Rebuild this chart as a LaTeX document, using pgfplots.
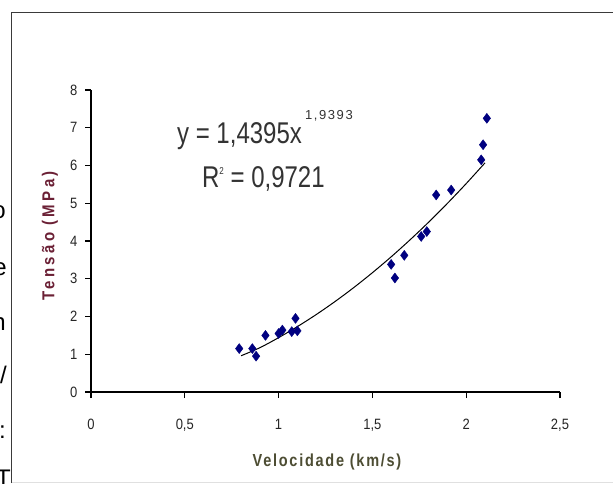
\documentclass[border=0pt]{standalone}
\usepackage{fontspec}
\setmainfont{Liberation Sans}
\newfontfamily\spaced[LetterSpace=12]{Liberation Sans}
\newfontfamily\wide[LetterSpace=22]{Liberation Sans}
\usepackage{pgfplots}
\pgfplotsset{compat=1.18}
\definecolor{navy}{HTML}{000080}
\definecolor{ylab}{HTML}{6B2035}
\definecolor{xlab}{HTML}{4D4D33}
\definecolor{framegray}{HTML}{3A3A3A}

\begin{document}
\begin{tikzpicture}[x=1pt,y=1pt]
  \useasboundingbox (0,0) rectangle (613,483);
  \fill[white] (0,0) rectangle (613,483);

  % moldura do grafico
  \draw[line width=1.8pt, framegray] (11.5,0) -- (11.5,470.5) -- (613,470.5);
  \draw[line width=1pt, black!12] (12,1) -- (613,1);

  % restos do texto ao lado (cortados)
  \begin{scope}
    \clip (0,0) rectangle (10,483);
    \node[anchor=base east, inner sep=0pt, font=\fontsize{24}{24}\selectfont] at (6,265) {o};
    \node[anchor=base east, inner sep=0pt, font=\fontsize{24}{24}\selectfont] at (7,208) {e};
    \node[anchor=base east, inner sep=0pt, font=\fontsize{24}{24}\selectfont] at (6,153) {n};
    \node[anchor=base east, inner sep=0pt, font=\fontsize{24}{24}\selectfont] at (7,100) {/};
    \node[anchor=base east, inner sep=0pt, font=\fontsize{24}{24}\selectfont] at (6,45) {:};
    \node[anchor=base east, inner sep=0pt, font=\fontsize{24}{24}\selectfont] at (11,-3) {T};
  \end{scope}

  \begin{axis}[
    at={(91pt,91pt)},
    anchor=south west,
    width=469pt,
    height=302pt,
    scale only axis,
    xmin=0, xmax=2.5,
    ymin=0, ymax=8,
    axis lines*=left,
    axis line style={line width=1.3pt},
    tick align=outside,
    major tick length=6pt,
    tick style={line width=1.3pt, black},
    xtick={0,0.5,1,1.5,2,2.5},
    ytick={0,1,2,3,4,5,6,7,8},
    /pgf/number format/use comma,
    /pgf/number format/assume math mode=true,
    xticklabel style={font=\fontsize{13}{13}\selectfont, text=black!85, yshift=-17pt, yscale=1.15},
    yticklabel style={font=\fontsize{13}{13}\selectfont, text=black!85, xshift=-4pt, yscale=1.15},
    clip=false
  ]

    % curva de tendencia (potencia), pontos da equacao mostrada
    \addplot[black, line width=1pt, smooth] coordinates {
      (0.80,0.960) (0.90,1.173) (1.00,1.440) (1.10,1.732)
      (1.20,2.050) (1.30,2.394) (1.40,2.764) (1.50,3.160)
      (1.60,3.581) (1.70,4.028) (1.80,4.500) (1.90,4.998)
      (2.00,5.521) (2.10,6.069)
    };

    % medicoes
    \addplot[only marks, mark=diamond*, mark size=5pt, navy,
             mark options={fill=navy, draw=navy}] coordinates {
      (0.79,1.15) (0.86,1.15) (0.88,0.95)
      (0.93,1.50) (1.00,1.55) (1.02,1.64)
      (1.07,1.60) (1.10,1.62) (1.09,1.95)
      (1.60,3.38) (1.62,3.02) (1.67,3.62)
      (1.76,4.12) (1.79,4.25) (1.84,5.22)
      (1.92,5.35) (2.08,6.15) (2.09,6.55)
      (2.11,7.25)
    };
  \end{axis}

  % equacao e R2
  \node[anchor=base west, inner sep=0pt, xscale=0.8,
        font=\fontsize{30}{30}\selectfont, text=black!80] at (177,340) {y = 1,4395x};
  \node[anchor=base west, inner sep=0pt,
        font=\fontsize{13}{13}\selectfont\spaced, text=black!80] at (305,363) {1,9393};
  \node[anchor=base west, inner sep=0pt, xscale=0.8,
        font=\fontsize{30}{30}\selectfont, text=black!80] at (202,296)
        {R\raisebox{13pt}{\fontsize{10}{10}\selectfont 2} = 0,9721};

  % titulos dos eixos
  \node[yscale=1.2, font=\fontsize{14.5}{14.5}\selectfont\spaced\bfseries, text=xlab] at (327,21) {Velocidade (km/s)};
  \node[rotate=90, yscale=1.15, font=\fontsize{15}{15}\selectfont\wide\bfseries, text=ylab] at (50,247) {Tensão (MPa)};
\end{tikzpicture}
\end{document}
